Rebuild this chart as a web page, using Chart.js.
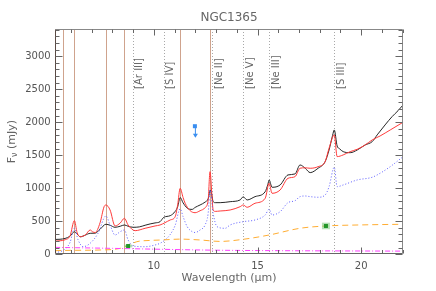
<!DOCTYPE html>
<html><head><meta charset="utf-8">
<script src="https://cdn.jsdelivr.net/npm/chart.js@4/dist/chart.umd.min.js"></script>
<style>html,body{margin:0;padding:0;background:#fff;overflow:hidden}</style>
</head><body>
<canvas id="c" width="436" height="291"></canvas>
<script>
// ---------- data ----------
const title = "NGC1365";
const xTickLabels = [10, 15, 20];
const yTickLabels = [0, 500, 1000, 1500, 2000, 2500, 3000];

const blackWave = [5.24,5.48,5.72,5.96,6.17,6.35,6.45,6.69,6.93,7.17,7.41,7.69,7.89,8.13,8.38,8.58,8.76,9.00,9.30,9.58,9.82,10.06,10.30,10.48,10.79,11.03,11.15,11.27,11.41,11.61,11.85,11.99,12.23,12.47,12.62,12.73,12.86,12.96,13.20,13.68,14.16,14.31,14.50,14.88,15.37,15.50,15.56,15.70,16.09,16.47,16.81,17.05,17.30,17.54,17.92,18.26,18.45,18.62,18.70,18.84,18.95,19.13,19.47,19.81,20.19,20.53,20.77,21.15,21.49,21.78,22.02];
const blackFlux = [225,228,240,275,342,290,265,290,318,320,380,455,440,409,425,444,425,409,415,440,460,475,494,560,585,650,720,860,780,700,680,710,747,790,840,974,800,782,782,797,823,870,823,873,948,1060,1126,1015,1050,1202,1217,1353,1303,1237,1303,1403,1580,1800,1883,1640,1600,1555,1539,1580,1656,1706,1808,1959,2085,2176,2262];

const redWave = [5.24,5.48,5.72,5.96,6.17,6.30,6.45,6.69,6.93,7.05,7.17,7.41,7.60,7.69,7.89,8.13,8.38,8.58,8.76,9.10,9.58,10.06,10.30,10.54,10.79,11.03,11.15,11.27,11.41,11.51,11.75,11.99,12.23,12.47,12.62,12.71,12.80,12.86,12.96,13.20,13.68,14.16,14.31,14.50,14.88,15.37,15.56,15.70,16.09,16.47,16.81,17.05,17.30,17.54,17.92,18.26,18.45,18.70,18.84,19.13,19.47,19.81,20.19,20.53,20.91,21.40,22.02];
const redFlux = [200,205,220,280,510,330,267,290,368,340,330,480,720,747,671,429,474,545,444,358,394,429,444,479,520,570,750,1000,860,773,661,630,660,706,823,1251,900,671,650,656,671,721,747,712,773,848,1076,924,974,1151,1176,1303,1310,1303,1327,1403,1606,1808,1479,1505,1555,1591,1656,1732,1792,1883,2000];

const blueWave = [5.24,5.48,5.72,5.96,6.17,6.35,6.59,6.93,7.31,7.69,7.89,8.13,8.38,8.58,8.76,9.00,9.58,10.06,10.30,10.54,10.79,11.03,11.27,11.41,11.61,11.85,11.99,12.23,12.47,12.62,12.71,12.86,13.05,13.44,13.68,14.31,14.88,15.37,15.56,15.70,16.09,16.47,16.81,17.05,17.30,17.54,17.92,18.26,18.45,18.70,18.84,19.13,19.81,20.53,20.91,21.40,22.02];
const blueFlux = [30,40,80,180,394,217,115,167,318,580,444,292,343,368,217,126,115,141,167,217,300,440,690,570,418,343,330,368,444,621,974,621,418,394,444,494,520,595,682,595,645,782,812,873,883,873,864,898,1024,1318,1024,1050,1126,1167,1227,1327,1479];

const orangeWave = [5.24,6.00,7.41,8.38,8.76,9.18,9.82,10.40,11.27,12.23,13.20,14.31,15.56,17.05,18.30,20.00,22.02];
const orangeFlux = [55,60,65,90,135,191,210,217,230,217,195,227,292,394,429,445,455];

const magentaWave = [5.24,8.00,10.50,13.00,16.00,22.02];
const magentaFlux = [105,90,75,62,55,48];

const pahWaves = [5.64,6.17,7.69,8.58,11.28,12.70];
const lineWaves = [8.99,10.48,12.81,14.32,15.56,18.71];
const lineNames = ["[Ar III]","[S IV]","[Ne II]","[Ne V]","[Ne III]","[S III]"];

const photWave = [8.76, 18.3];
const photFlux = [125, 429];
const photErr = [20, 50];

const limitWave = [11.98];
const limitFlux = [1940];

// ---------- chart ----------
const pts = (w, f) => w.map((v, i) => ({x: v, y: f[i]}));
const FONT = '"DejaVu Sans", sans-serif';

const overlay = {
  id: 'overlay',
  beforeDatasetsDraw(chart) {
    const {ctx, chartArea: a, scales: {x, y}} = chart;
    ctx.save();
    ctx.beginPath(); ctx.rect(a.left, a.top, a.right - a.left, a.bottom - a.top); ctx.clip();
    ctx.lineWidth = 1;
    ctx.strokeStyle = '#cfa38d';
    pahWaves.forEach(w => {
      const px = Math.round(x.getPixelForValue(w)) + 0.5;
      ctx.beginPath(); ctx.moveTo(px, a.top); ctx.lineTo(px, a.bottom); ctx.stroke();
    });
    ctx.strokeStyle = '#a8a8a8'; ctx.setLineDash([1, 2]);
    lineWaves.forEach(w => {
      const px = Math.round(x.getPixelForValue(w)) + 0.5;
      ctx.beginPath(); ctx.moveTo(px, a.top); ctx.lineTo(px, a.bottom); ctx.stroke();
    });
    ctx.setLineDash([]);
    ctx.fillStyle = '#666'; ctx.font = '10px ' + FONT;
    ctx.textAlign = 'left'; ctx.textBaseline = 'middle';
    lineWaves.forEach((w, i) => {
      const px = x.getPixelForValue(w) + 7;
      const py = y.getPixelForValue(2505);
      ctx.save(); ctx.translate(px, py); ctx.rotate(-Math.PI / 2);
      ctx.fillText(lineNames[i], 0, 0); ctx.restore();
    });
    ctx.restore();
  },
  afterDatasetsDraw(chart) {
    const {ctx, scales: {x, y}} = chart;
    ctx.save();
    photWave.forEach((w, i) => {
      const px = x.getPixelForValue(w);
      const y1 = y.getPixelForValue(photFlux[i] + photErr[i]);
      const y2 = y.getPixelForValue(photFlux[i] - photErr[i]);
      ctx.fillStyle = 'rgba(120,200,120,0.55)';
      ctx.fillRect(px - 4, y1, 8, y2 - y1);
      ctx.fillStyle = '#22962a';
      const py = y.getPixelForValue(photFlux[i]);
      ctx.fillRect(px - 2, py - 2, 4, 4);
    });
    limitWave.forEach((w, i) => {
      const px = x.getPixelForValue(w);
      const py = y.getPixelForValue(limitFlux[i]);
      const pe = y.getPixelForValue(limitFlux[i] - 160);
      ctx.fillStyle = '#3a8ef0'; ctx.strokeStyle = '#3a8ef0'; ctx.lineWidth = 1;
      ctx.fillRect(px - 2, py - 2, 4, 4);
      ctx.beginPath(); ctx.moveTo(px + 0.5, py); ctx.lineTo(px + 0.5, pe); ctx.stroke();
      ctx.beginPath(); ctx.moveTo(px - 2, pe - 3); ctx.lineTo(px + 3, pe - 3); ctx.lineTo(px + 0.5, pe + 1); ctx.closePath(); ctx.fill();
    });
    ctx.restore();
  },
  afterDraw(chart) {
    const {ctx, chartArea: a, scales: {x, y}} = chart;
    ctx.save();
    ctx.lineWidth = 1;
    const L = Math.round(a.left) + 0.5, R = Math.round(a.right) - 0.5;
    const T = Math.round(a.top) + 0.5, B = Math.round(a.bottom) - 0.5;
    ctx.strokeStyle = '#888';
    ctx.beginPath(); ctx.moveTo(L, T); ctx.lineTo(R, T); ctx.lineTo(R, B); ctx.stroke();
    ctx.strokeStyle = '#666';
    ctx.beginPath(); ctx.moveTo(L, B); ctx.lineTo(R, B); ctx.stroke();
    ctx.strokeStyle = '#5a4a44';
    ctx.beginPath(); ctx.moveTo(L, T); ctx.lineTo(L, B); ctx.stroke();
    ctx.strokeStyle = '#666';
    for (let w = Math.ceil(x.min); w <= x.max; w++) {
      const px = Math.round(x.getPixelForValue(w)) + 0.5;
      const len = xTickLabels.includes(w) ? 6 : 3.5;
      ctx.beginPath();
      ctx.moveTo(px, B); ctx.lineTo(px, B - len);
      ctx.moveTo(px, T); ctx.lineTo(px, T + len);
      ctx.stroke();
    }
    for (let v = 0; v <= y.max; v += 100) {
      const py = Math.round(y.getPixelForValue(v)) + 0.5;
      const len = yTickLabels.includes(v) ? 7 : 4;
      ctx.beginPath();
      ctx.moveTo(L, py); ctx.lineTo(L + len, py);
      ctx.moveTo(R, py); ctx.lineTo(R - len, py);
      ctx.stroke();
    }
    ctx.fillStyle = '#666';
    ctx.font = '12px ' + FONT; ctx.textAlign = 'center'; ctx.textBaseline = 'middle';
    ctx.fillText(title, (a.left + a.right) / 2, 18);
    ctx.font = '11px ' + FONT;
    ctx.fillText('Wavelength (\u00b5m)', (a.left + a.right) / 2, 278);
    ctx.save();
    ctx.translate(12, (a.top + a.bottom) / 2);
    ctx.rotate(-Math.PI / 2);
    ctx.textAlign = 'left';
    const p1 = 'F', p3 = ' (mJy)';
    ctx.font = '11px ' + FONT;
    const w1 = ctx.measureText(p1).width, w3 = ctx.measureText(p3).width;
    ctx.font = '8px ' + FONT;
    const w2 = ctx.measureText('\u03bd').width;
    let sx = -(w1 + w2 + w3) / 2;
    ctx.font = '11px ' + FONT; ctx.fillText(p1, sx, 0); sx += w1;
    ctx.font = '8px ' + FONT; ctx.fillText('\u03bd', sx, 3); sx += w2;
    ctx.font = '11px ' + FONT; ctx.fillText(p3, sx, 0);
    ctx.restore();
    ctx.restore();
  }
};

const ds = (label, w, f, color, dash, width) => ({
  label, data: pts(w, f), borderColor: color, borderWidth: width || 1,
  borderDash: dash || [], pointRadius: 0, fill: false,
  cubicInterpolationMode: 'monotone', tension: 0.3
});

new Chart(document.getElementById('c'), {
  type: 'line',
  data: {
    datasets: [
      ds('magenta', magentaWave, magentaFlux, '#ff40ff', [5, 2, 1, 2]),
      ds('orange', orangeWave, orangeFlux, '#ffad33', [6, 4]),
      ds('blue', blueWave, blueFlux, '#5d5dff', [1, 2]),
      ds('red', redWave, redFlux, '#ff3b3b'),
      ds('black', blackWave, blackFlux, '#262626')
    ]
  },
  options: {
    responsive: false, animation: false, devicePixelRatio: 1,
    layout: {padding: {top: 29, right: 32.7, left: 0, bottom: 0}},
    plugins: {legend: {display: false}, tooltip: {enabled: false}, title: {display: false}},
    scales: {
      x: {
        type: 'linear', min: 5.22, max: 22.03,
        grid: {display: false, drawTicks: false}, border: {display: false},
        afterBuildTicks: s => { s.ticks = xTickLabels.map(v => ({value: v})); },
        ticks: {
          autoSkip: false, maxRotation: 0, padding: 6,
          color: '#555', font: {family: FONT, size: 10},
          callback: v => String(v)
        },
        afterFit: s => { s.height = 36.7; }
      },
      y: {
        type: 'linear', min: 0, max: 3412,
        grid: {display: false, drawTicks: false}, border: {display: false},
        afterBuildTicks: s => { s.ticks = yTickLabels.map(v => ({value: v})); },
        ticks: {
          autoSkip: false, padding: 4,
          color: '#555', font: {family: FONT, size: 10},
          callback: v => String(v)
        },
        afterFit: s => { s.width = 54.7; }
      }
    }
  },
  plugins: [overlay]
});
</script>
</body></html>
